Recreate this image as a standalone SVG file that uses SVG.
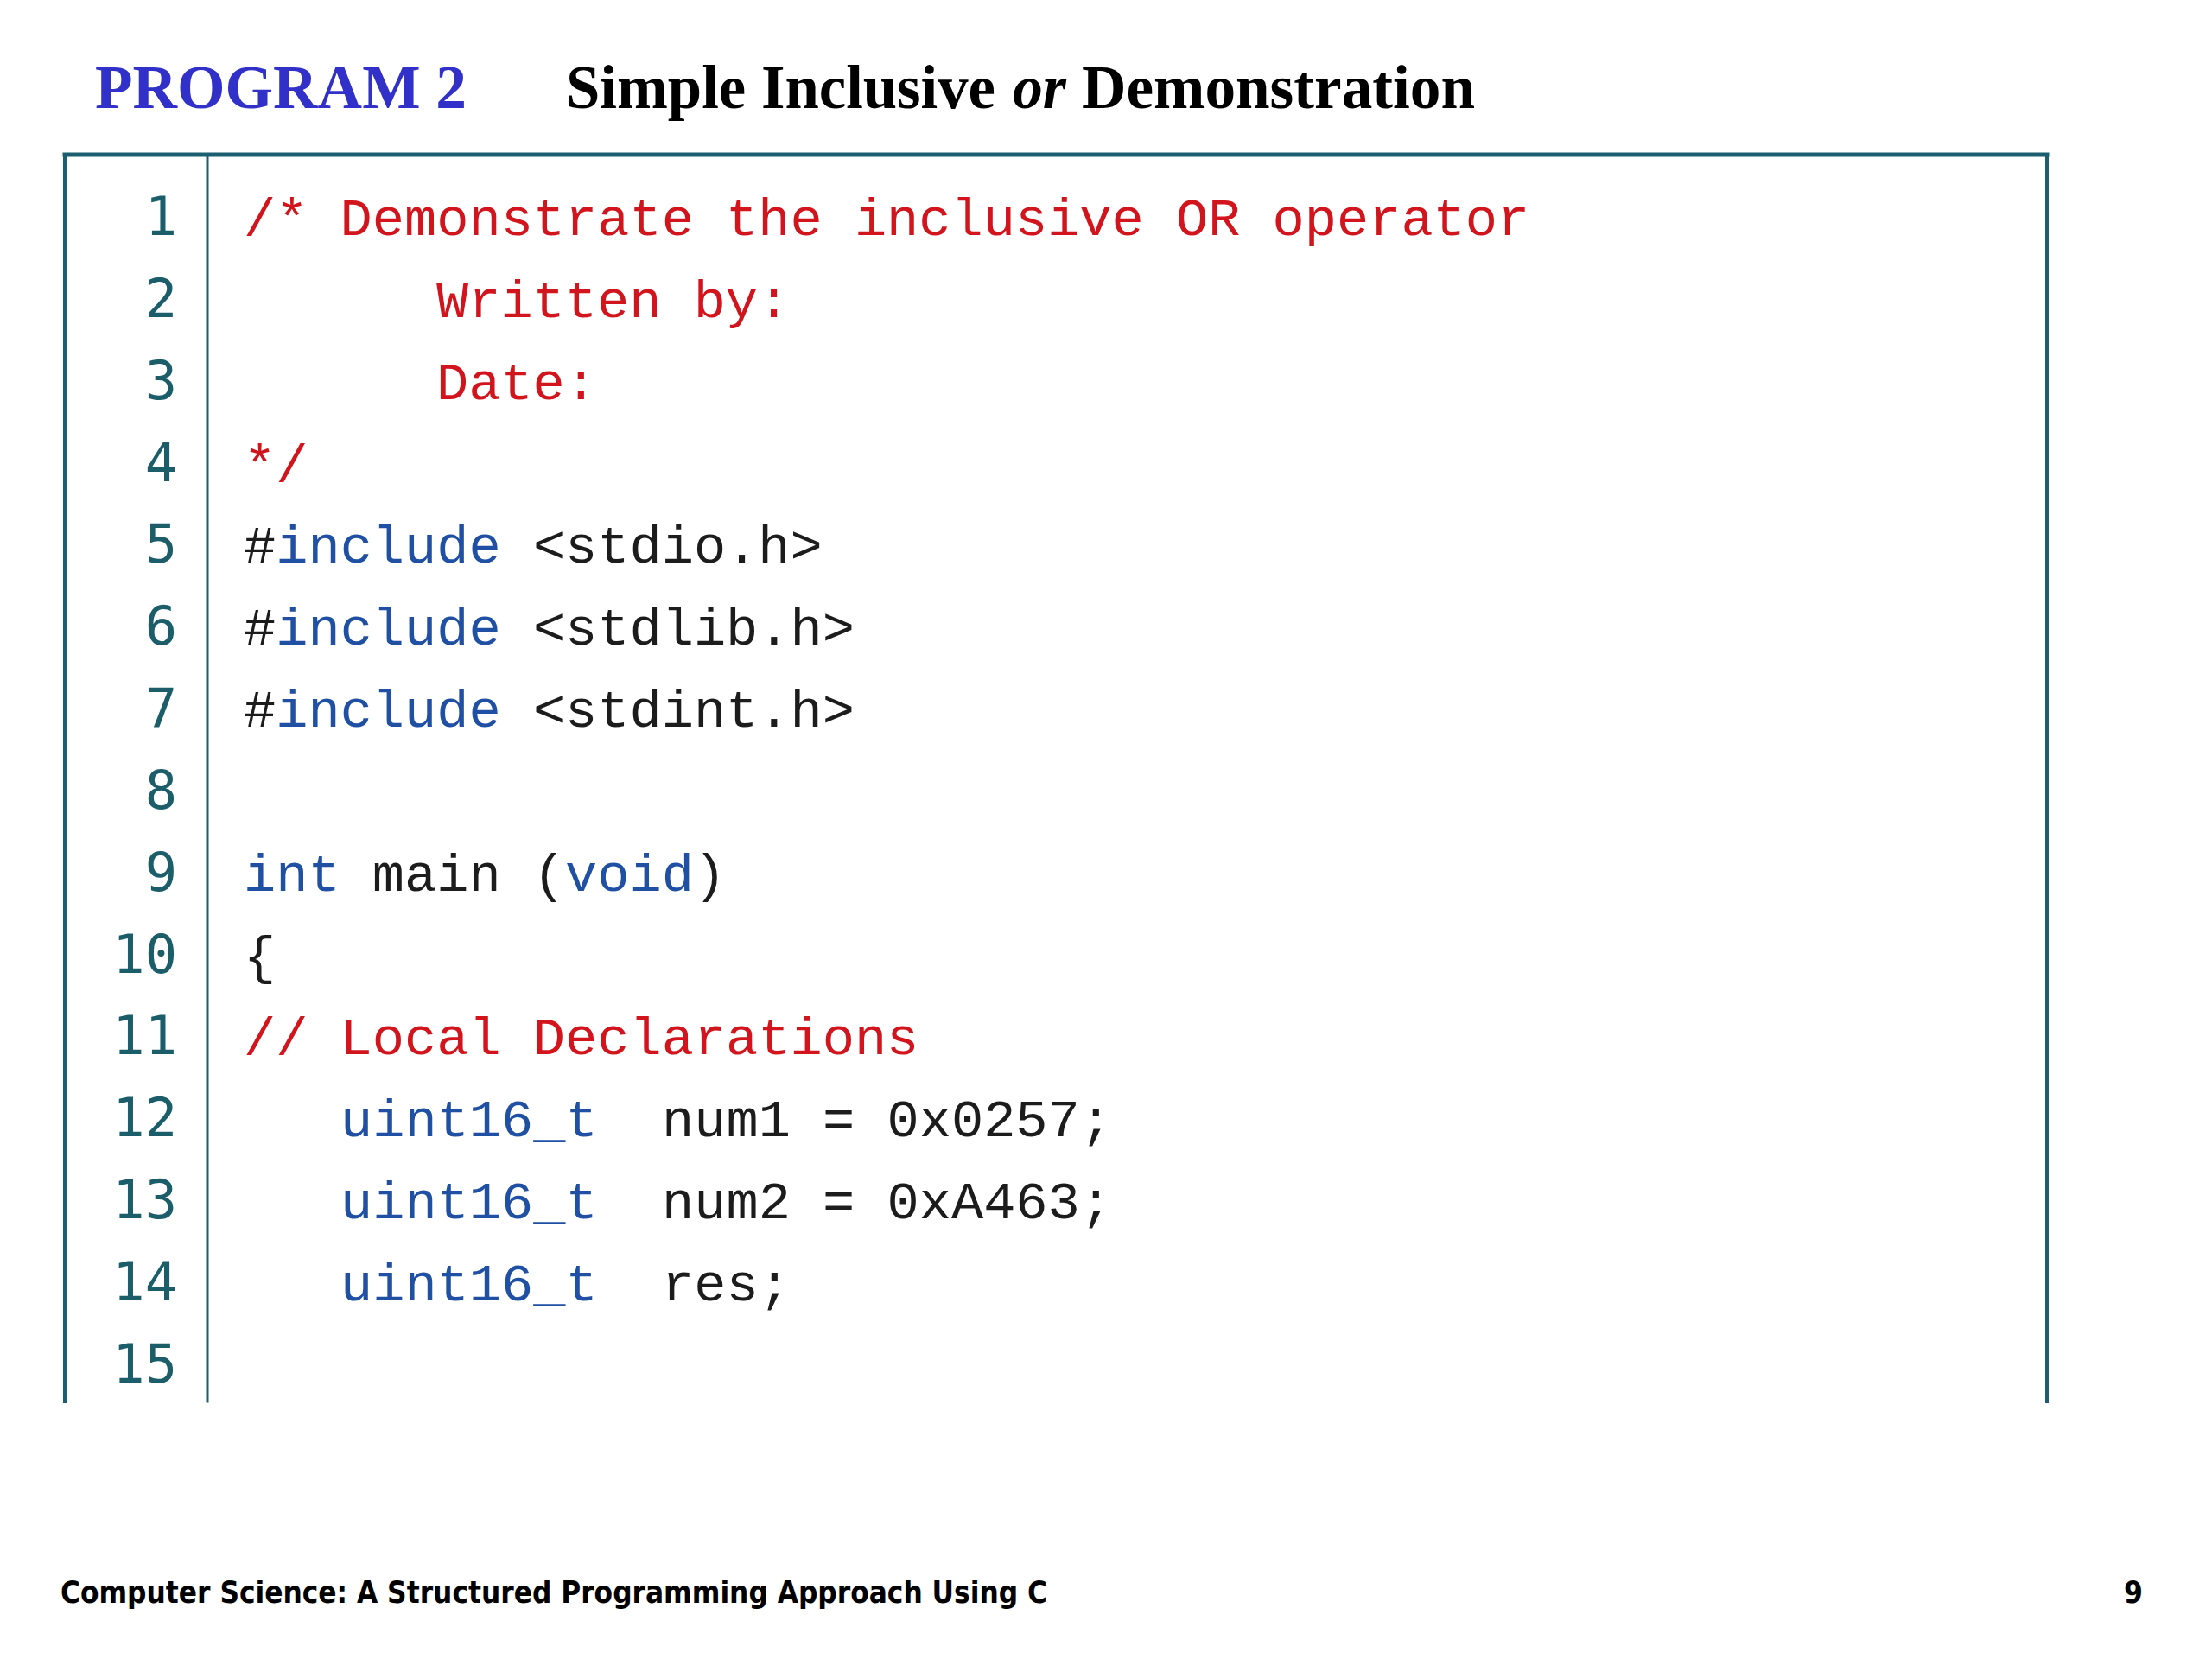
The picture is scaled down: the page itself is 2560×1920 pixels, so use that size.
<svg xmlns="http://www.w3.org/2000/svg" width="2560" height="1920" viewBox="0 0 2560 1920">
<style>
.ttl{font-family:"Liberation Serif","Times New Roman",serif;font-weight:bold;font-size:72px}
.code{font-family:"Liberation Mono","Courier New",monospace;font-size:62px;fill:#1c1c1c;white-space:pre}
.ln{font-family:"DejaVu Sans Mono","Liberation Mono",monospace;font-size:62px;fill:#1b5e6a;text-anchor:end}
.r{fill:#d2141d}
.b{fill:#1f50a3}
.frame{stroke:#1b5e70;fill:none;stroke-linecap:square}
.foot{font-family:"DejaVu Sans Condensed","DejaVu Sans",sans-serif;font-weight:bold;font-size:35px;fill:#000}
</style>
<rect width="2560" height="1920" fill="#ffffff"/>
<g id="title">
<text class="ttl" x="110" y="125" fill="#3131c9" textLength="430" lengthAdjust="spacingAndGlyphs">PROGRAM 2</text>
<text class="ttl" x="655" y="125" fill="#000" textLength="497" lengthAdjust="spacingAndGlyphs">Simple Inclusive</text>
<text class="ttl" x="1172" y="125" fill="#000" font-style="italic" textLength="62" lengthAdjust="spacingAndGlyphs">or</text>
<text class="ttl" x="1252" y="125" fill="#000" textLength="455" lengthAdjust="spacingAndGlyphs">Demonstration</text>
</g>
<g id="frame">
<line class="frame" x1="75" y1="179" x2="2369" y2="179" stroke-width="5"/>
<line class="frame" x1="75" y1="179" x2="75" y2="1622" stroke-width="4"/>
<line class="frame" x1="2369" y1="179" x2="2369" y2="1622" stroke-width="4"/>
<line class="frame" x1="240" y1="179" x2="240" y2="1622" stroke-width="3"/>
</g>
<g id="line-numbers">
<text class="ln" x="205" y="272">1</text>
<text class="ln" x="205" y="367">2</text>
<text class="ln" x="205" y="462">3</text>
<text class="ln" x="205" y="557">4</text>
<text class="ln" x="205" y="651">5</text>
<text class="ln" x="205" y="746">6</text>
<text class="ln" x="205" y="841">7</text>
<text class="ln" x="205" y="936">8</text>
<text class="ln" x="205" y="1031">9</text>
<text class="ln" x="205" y="1126">10</text>
<text class="ln" x="205" y="1220">11</text>
<text class="ln" x="205" y="1315">12</text>
<text class="ln" x="205" y="1410">13</text>
<text class="ln" x="205" y="1505">14</text>
<text class="ln" x="205" y="1600">15</text>
</g>
<g id="code">
<text xml:space="preserve" class="code r" x="282" y="272">/* Demonstrate the inclusive OR operator</text>
<text xml:space="preserve" class="code r" x="505" y="367">Written by:</text>
<text xml:space="preserve" class="code r" x="505" y="462">Date:</text>
<text xml:space="preserve" class="code r" x="282" y="557">*/</text>
<text xml:space="preserve" class="code" x="282" y="651">#<tspan class="b">include</tspan> &lt;stdio.h&gt;</text>
<text xml:space="preserve" class="code" x="282" y="746">#<tspan class="b">include</tspan> &lt;stdlib.h&gt;</text>
<text xml:space="preserve" class="code" x="282" y="841">#<tspan class="b">include</tspan> &lt;stdint.h&gt;</text>
<text xml:space="preserve" class="code" x="282" y="1031"><tspan class="b">int</tspan> main (<tspan class="b">void</tspan>)</text>
<text xml:space="preserve" class="code" x="282" y="1126">{</text>
<text xml:space="preserve" class="code r" x="282" y="1220">// Local Declarations</text>
<text xml:space="preserve" class="code" x="394" y="1315"><tspan class="b">uint16_t</tspan>  num1 = 0x0257;</text>
<text xml:space="preserve" class="code" x="394" y="1410"><tspan class="b">uint16_t</tspan>  num2 = 0xA463;</text>
<text xml:space="preserve" class="code" x="394" y="1505"><tspan class="b">uint16_t</tspan>  res;</text>
</g>
<g id="footer">
<text class="foot" x="70" y="1855" textLength="1142" lengthAdjust="spacingAndGlyphs">Computer Science: A Structured Programming Approach Using C</text>
<text class="foot" x="2480" y="1855" text-anchor="end">9</text>
</g>
</svg>
